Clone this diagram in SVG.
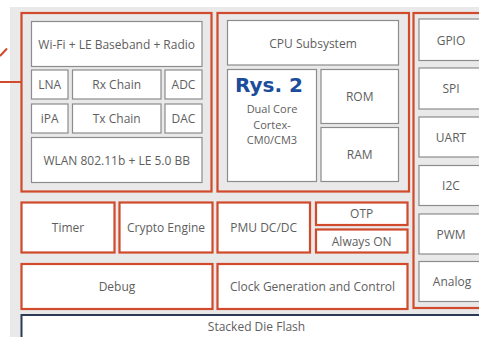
<svg xmlns="http://www.w3.org/2000/svg" width="479" height="337" viewBox="0 0 479 337">
  <style>
    .red { fill: #ffffff; stroke: #d04a2b; stroke-width: 2.2; }
    .frame { fill: none; stroke: #d04a2b; stroke-width: 2.2; }
    .blk { fill: #ffffff; stroke: #8c8c8c; stroke-width: 1.2; }
    .io { fill: #ffffff; stroke: #8c8c8c; stroke-width: 1.2; }
    .t { font-family: "Open Sans", "Liberation Sans", sans-serif; font-size: 12px; fill: #5e5e5e; text-anchor: middle; dominant-baseline: central; }
    .s { font-size: 11px; }
    .fig { font-family: "DejaVu Sans", sans-serif; font-weight: bold; font-size: 20px; fill: #1b4d9b; }
    .wire { fill: none; stroke: #d04a2b; stroke-width: 2; }
  </style>

  <rect x="0" y="0" width="479" height="337" fill="#ffffff"/>
  <rect x="10" y="7" width="480" height="340" fill="#e9e9e9"/>

  <!-- leader lines -->
  <g id="connectors">
    <line class="wire" x1="0" y1="82" x2="21.5" y2="82"/>
    <line class="wire" x1="0" y1="56" x2="7" y2="48.5"/>
  </g>

  <!-- radio subsystem -->
  <g id="radio">
    <rect class="frame" x="21.5" y="13" width="190" height="178.5"/>
    <g id="wifi"><rect class="blk" x="31.5" y="21.5" width="170.5" height="45"/><text class="t" x="116.7" y="44">Wi-Fi + LE Baseband + Radio</text></g>
    <g id="lna"><rect class="blk" x="31.5" y="70" width="36.5" height="29"/><text class="t" x="49.7" y="84.5">LNA</text></g>
    <g id="rx"><rect class="blk" x="72.5" y="70" width="88.5" height="29"/><text class="t" x="116.7" y="84.5">Rx Chain</text></g>
    <g id="adc"><rect class="blk" x="165" y="70" width="37" height="29"/><text class="t" x="183.5" y="84.5">ADC</text></g>
    <g id="ipa"><rect class="blk" x="31.5" y="104" width="36.5" height="29"/><text class="t" x="49.7" y="118.5">iPA</text></g>
    <g id="tx"><rect class="blk" x="72.5" y="104" width="88.5" height="29"/><text class="t" x="116.7" y="118.5">Tx Chain</text></g>
    <g id="dac"><rect class="blk" x="165" y="104" width="37" height="29"/><text class="t" x="183.5" y="118.5">DAC</text></g>
    <g id="wlan"><rect class="blk" x="31.5" y="137.5" width="170.5" height="45"/><text class="t" x="116.7" y="160">WLAN 802.11b + LE 5.0 BB</text></g>
  </g>

  <!-- CPU subsystem -->
  <g id="cpu">
    <rect class="frame" x="217.5" y="13" width="191.5" height="178.5"/>
    <g id="cpu-title"><rect class="blk" x="227.5" y="20.5" width="171" height="44.5"/><text class="t" x="313" y="43">CPU Subsystem</text></g>
    <g id="cores">
      <rect class="blk" x="227.5" y="69.5" width="89" height="112"/>
      <text class="t s" x="272" y="108.5">Dual Core</text>
      <text class="t s" x="272" y="124">Cortex-</text>
      <text class="t s" x="272" y="139.5">CM0/CM3</text>
    </g>
    <g id="rom"><rect class="blk" x="321" y="69.5" width="77.5" height="54"/><text class="t" x="359.7" y="96.5">ROM</text></g>
    <g id="ram"><rect class="blk" x="321" y="127.5" width="77.5" height="54"/><text class="t" x="359.7" y="154.5">RAM</text></g>
  </g>

  <text class="fig" x="235" y="91.5">Rys. 2</text>

  <!-- peripherals -->
  <g id="peripherals">
    <rect class="frame" x="413.5" y="13" width="75" height="295"/>
    <g id="gpio"><rect class="io" x="419" y="19" width="70" height="41.5"/><text class="t" x="451" y="40">GPIO</text></g>
    <g id="spi"><rect class="io" x="419" y="68" width="70" height="41"/><text class="t" x="451" y="88.5">SPI</text></g>
    <g id="uart"><rect class="io" x="419" y="117" width="70" height="40"/><text class="t" x="451" y="137">UART</text></g>
    <g id="i2c"><rect class="io" x="419" y="165.5" width="70" height="40"/><text class="t" x="451" y="185.5">I2C</text></g>
    <g id="pwm"><rect class="io" x="419" y="214" width="70" height="40"/><text class="t" x="451" y="234">PWM</text></g>
    <g id="analog"><rect class="io" x="419" y="261.5" width="70" height="40"/><text class="t" x="452" y="281.5">Analog</text></g>
  </g>

  <!-- system blocks -->
  <g id="timer"><rect class="red" x="21.5" y="202.5" width="93" height="50"/><text class="t" x="68" y="227.5">Timer</text></g>
  <g id="crypto"><rect class="red" x="119.5" y="202.5" width="93" height="50"/><text class="t" x="166" y="227.5">Crypto Engine</text></g>
  <g id="pmu"><rect class="red" x="217.5" y="202.5" width="92.5" height="50"/><text class="t" x="263.7" y="227.5">PMU DC/DC</text></g>
  <g id="otp"><rect class="red" x="316" y="202.5" width="91.5" height="22.5"/><text class="t" x="361.7" y="213.5">OTP</text></g>
  <g id="always-on"><rect class="red" x="316" y="229.5" width="91.5" height="23"/><text class="t" x="361.7" y="241">Always ON</text></g>
  <g id="debug"><rect class="red" x="21.5" y="264" width="191" height="45"/><text class="t" x="117" y="286.5">Debug</text></g>
  <g id="clock"><rect class="red" x="217.5" y="264" width="190" height="45"/><text class="t" x="312.5" y="286.5">Clock Generation and Control</text></g>

  <!-- flash die -->
  <g id="flash">
    <rect x="21.5" y="315" width="480" height="40" fill="#ffffff" stroke="#2b3a55" stroke-width="2"/>
    <text class="t" x="256.5" y="326.5">Stacked Die Flash</text>
  </g>
</svg>
